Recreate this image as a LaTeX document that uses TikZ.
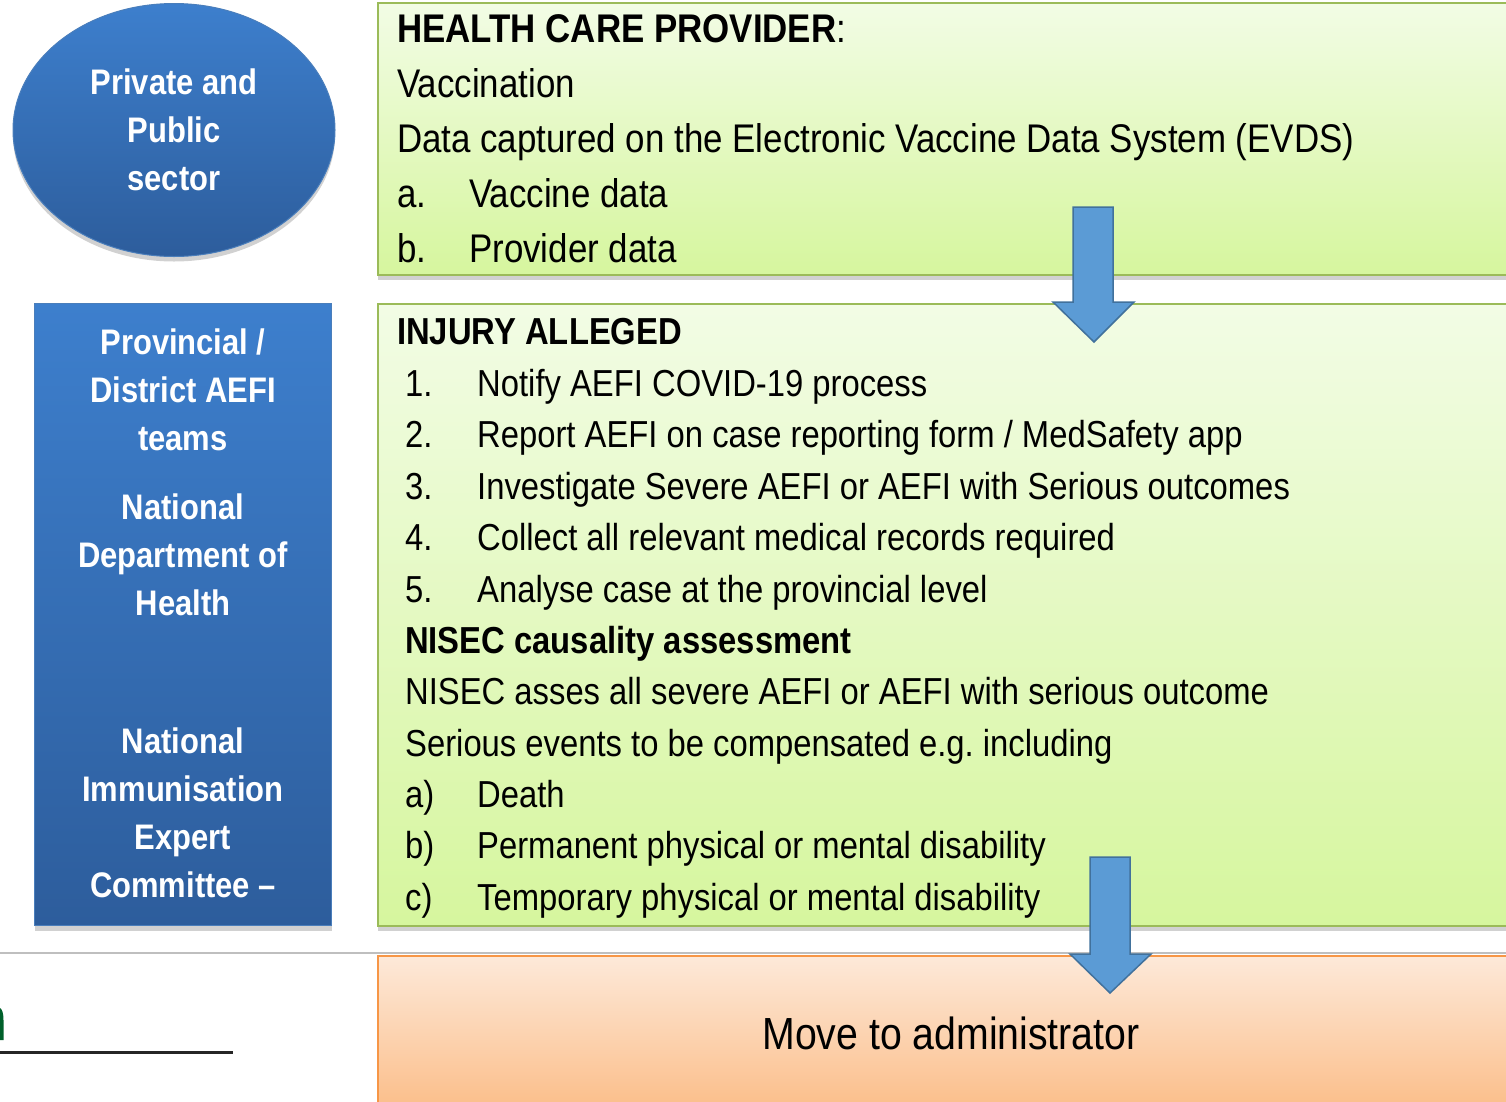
\documentclass[tikz,border=0pt]{standalone}
\usepackage{fontspec}
\setmainfont{Liberation Sans}[FakeStretch=0.872]
\usetikzlibrary{shapes.geometric,shadows}

\definecolor{gboxtop}{HTML}{F2FCE5}
\definecolor{gboxbot}{HTML}{D6F69E}
\definecolor{gline}{HTML}{9BBB59}
\definecolor{otop}{HTML}{FDE9D9}
\definecolor{obot}{HTML}{FBBC86}
\definecolor{oline}{HTML}{F79646}
\definecolor{btop}{HTML}{3D7FCD}
\definecolor{bbot}{HTML}{2D5D9C}
\definecolor{bline}{HTML}{4A7EBB}
\definecolor{arrfill}{HTML}{5B9BD5}
\definecolor{arrline}{HTML}{41719C}
\definecolor{logogreen}{HTML}{00602B}

\tikzset{
  softshadow/.style={drop shadow={shadow xshift=0pt,shadow yshift=-5pt,opacity=.3,fill=black!60}},
  greenbox/.style={draw=gline,line width=1.5pt,top color=gboxtop,bottom color=gboxbot,
    anchor=north west,inner sep=0pt,softshadow},
  orangebox/.style={draw=oline,line width=1.5pt,top color=otop,bottom color=obot,
    anchor=north west,inner sep=0pt},
  bluebox/.style={draw=bline,line width=1pt,top color=btop,bottom color=bbot,softshadow},
  sidetext/.style={text=white,align=center,font=\fontsize{35.5}{48}\selectfont\bfseries},
  bigline/.style={anchor=base west,inner sep=0pt,font=\fontsize{40}{48}\selectfont},
  midline/.style={anchor=base west,inner sep=0pt,font=\fontsize{37.6}{44}\selectfont},
  blockarrow/.style={fill=arrfill,draw=arrline,line width=1.5pt,line join=miter},
}

\begin{document}
\begin{tikzpicture}[x=1pt,y=-1pt]
\useasboundingbox (0,0) rectangle (1506,1101);
\clip (0,0) rectangle (1506,1101);

% left column
\node[bluebox,ellipse,minimum width=322pt,minimum height=253pt] (sector) at (174,130) {};
\node[sidetext] (sectorlbl) at (174,130) {Private and\\Public\\sector};

\node[bluebox,rectangle,anchor=north west,minimum width=297pt,minimum height=622pt,inner sep=0pt] (teams) at (34,303) {};
\node[sidetext] (prov) at (183,390) {Provincial /\\District AEFI\\teams};
\node[sidetext] (ndoh) at (183,555) {National\\Department of\\Health};
\node[sidetext] (niac) at (183,813) {National\\Immunisation\\Expert\\Committee --};

% separator and footer fragment
\draw[black!25,line width=2pt] (0,953) -- (1506,953);
\draw[black!85,line width=3pt] (0,1052) -- (233,1052);
\fill[logogreen] (0,1008) .. controls (2,1009) and (3.5,1013) .. (3.5,1020)
  -- (3.5,1040) -- (0,1040) -- cycle;

% provider box
\node[greenbox,minimum width=1160pt,minimum height=272pt] (provider) at (377,2) {};
\node[bigline] (p1) at (397,42) {\textbf{HEALTH CARE PROVIDER}:};
\node[bigline] (p2) at (397,97) {Vaccination};
\node[bigline] (p3) at (397,152) {Data captured on the Electronic Vaccine Data System (EVDS)};
\node[bigline] (p4a) at (397,207) {a.};
\node[bigline] (p4) at (469,207) {Vaccine data};
\node[bigline] (p5a) at (397,262) {b.};
\node[bigline] (p5) at (469,262) {Provider data};

% injury box
\node[greenbox,minimum width=1160pt,minimum height=622pt] (injury) at (377,303) {};
\node[midline] (i0) at (397,344) {\textbf{INJURY ALLEGED}};
\node[midline] (i1a) at (405,396) {1.};
\node[midline] (i1) at (477,396) {Notify AEFI COVID-19 process};
\node[midline] (i2a) at (405,447) {2.};
\node[midline] (i2) at (477,447) {Report AEFI on case reporting form / MedSafety app};
\node[midline] (i3a) at (405,499) {3.};
\node[midline] (i3) at (477,499) {Investigate Severe AEFI or AEFI with Serious outcomes};
\node[midline] (i4a) at (405,550) {4.};
\node[midline] (i4) at (477,550) {Collect all relevant medical records required};
\node[midline] (i5a) at (405,602) {5.};
\node[midline] (i5) at (477,602) {Analyse case at the provincial level};
\node[midline] (n0) at (405,653) {\textbf{NISEC causality assessment}};
\node[midline] (n1) at (405,704) {NISEC asses all severe AEFI or AEFI with serious outcome};
\node[midline] (n2) at (405,756) {Serious events to be compensated e.g.\ including};
\node[midline] (naa) at (405,807) {a)};
\node[midline] (na) at (477,807) {Death};
\node[midline] (nba) at (405,858) {b)};
\node[midline] (nb) at (477,858) {Permanent physical or mental disability};
\node[midline] (nca) at (405,910) {c)};
\node[midline] (nc) at (477,910) {Temporary physical or mental disability};

% administrator box
\node[orangebox,minimum width=1160pt,minimum height=160pt] (admin) at (377,955) {};
\node[font=\fontsize{45}{50}\selectfont] (adminlbl) at (951,1033) {Move to administrator};

% block arrows between the stages
\draw[blockarrow] (1073,207) -- (1113,207) -- (1113,302) -- (1134,302) -- (1094,342)
  -- (1053,302) -- (1073,302) -- cycle;
\draw[blockarrow] (1090,857) -- (1130,857) -- (1130,954) -- (1151,954) -- (1110,993)
  -- (1070,954) -- (1090,954) -- cycle;
\end{tikzpicture}
\end{document}
